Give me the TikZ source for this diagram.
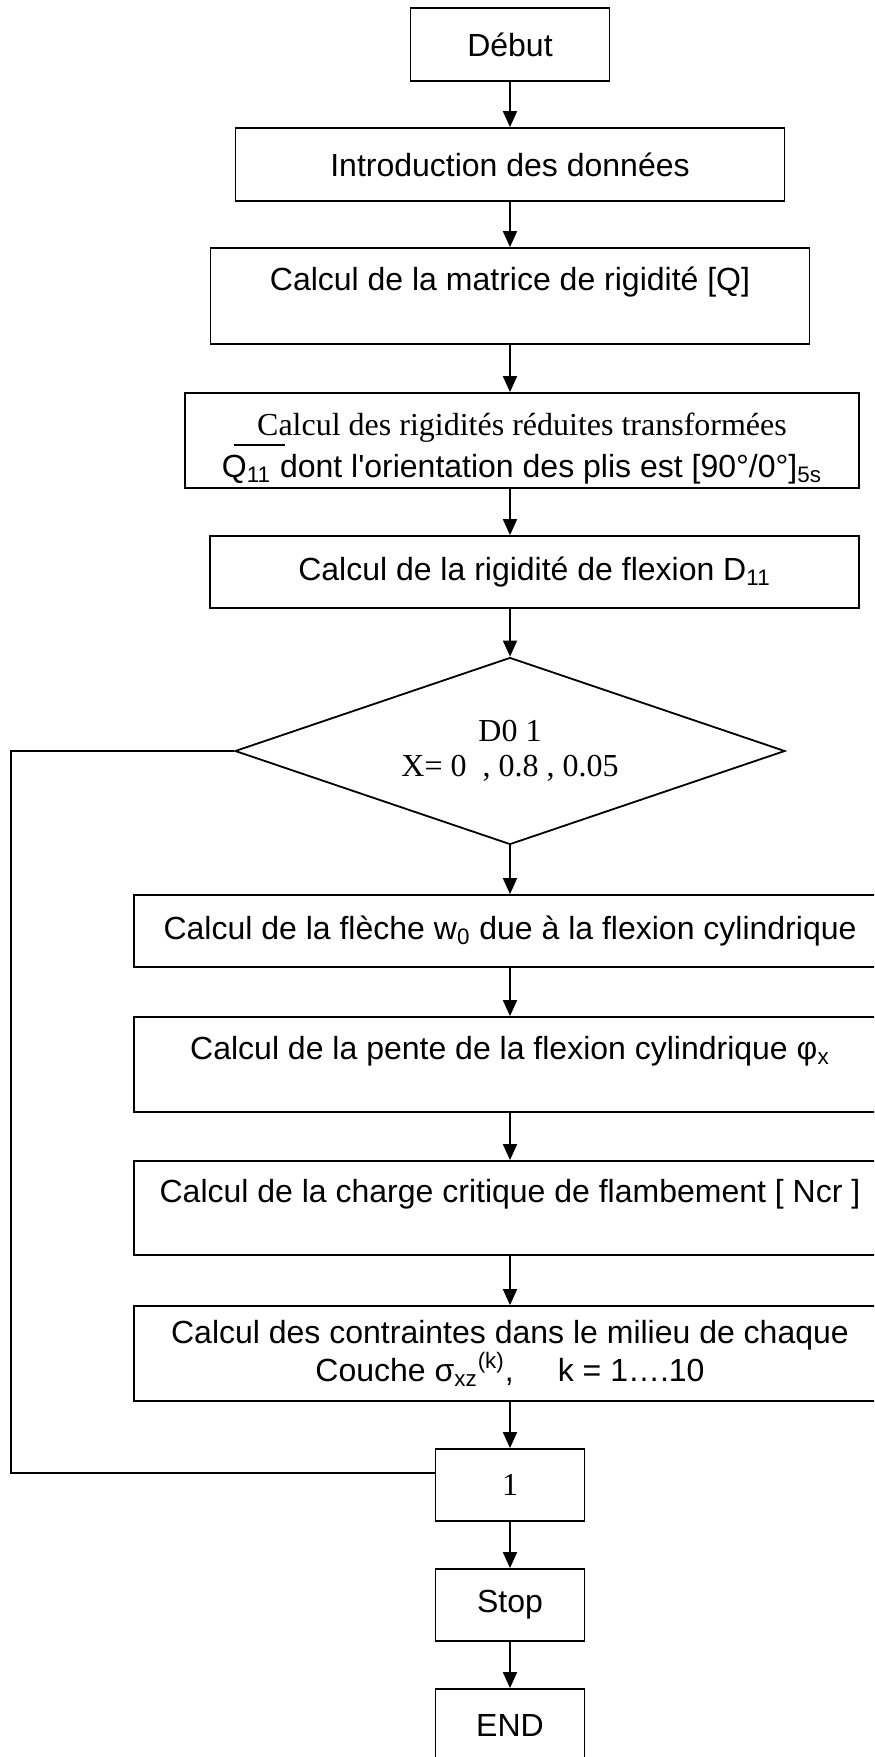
\documentclass[tikz,border=0pt]{standalone}
\usepackage{fontspec}
\setmainfont{Liberation Sans}[Ligatures=TeXOff]
\newfontfamily\tms{Liberation Serif}
\usetikzlibrary{shapes.geometric,arrows.meta}
\newcommand\fsz{\fontsize{16}{17}\selectfont}
\begin{document}
\begin{tikzpicture}[x=0.5pt,y=-0.5pt,
  box/.style={draw, line width=0.9pt, rectangle, inner sep=0pt, align=center, font=\fsz},
  arr/.style={line width=0.9pt, -{Triangle[length=8pt,width=7pt]}},
  plain/.style={line width=0.9pt}]
\useasboundingbox (0,0) rectangle (874,1757);
\clip (0,0) rectangle (874,1757);
\node[box, minimum width=99.5pt, minimum height=36.5pt] (debut) at (510,44.5) {Début};
\node[box, minimum width=274.5pt, minimum height=36.5pt] (intro) at (510,164.5) {Introduction des données};
\node[box, minimum width=299.5pt, minimum height=48pt] (mat) at (510,296) {Calcul de la matrice de rigidité [Q]\\\mbox{}};
\node[box, minimum width=337pt, minimum height=47.5pt, font=\fontsize{16}{16}\selectfont] (rig) at (522,440.5)
  {\rule{0pt}{19pt}{\tms Calcul des rigidités réduites transformées}\\
   \rlap{\hspace{6pt}\rule[15.5pt]{25.5pt}{0.9pt}}Q\textsubscript{11} dont l'orientation des plis est [90°/0°]\textsubscript{5s}};
\node[box, minimum width=324.5pt, minimum height=36pt] (d11) at (534.5,572) {Calcul de la rigidité de flexion D\textsubscript{11}};
\node[draw, diamond, aspect=2.94, line width=0.9pt, minimum width=275pt, minimum height=93.5pt, inner sep=0pt, align=center,
  font=\tms\fontsize{16}{17.5}\selectfont] (dia) at (510,751) {D0 1\\X= 0\ \ , 0.8 , 0.05};
\node[box, minimum width=376pt, minimum height=36pt] (fl) at (510,931) {Calcul de la flèche w\textsubscript{0} due à la flexion cylindrique};
\node[box, minimum width=376pt, minimum height=47.5pt] (pente) at (510,1064.5) {Calcul de la pente de la flexion cylindrique φ\textsubscript{x}\\\mbox{}};
\node[box, minimum width=376pt, minimum height=47pt] (ncr) at (510,1208) {Calcul de la charge critique de flambement [ Ncr ]\\\mbox{}};
\node[box, minimum width=376pt, minimum height=47.5pt] (contr) at (510,1353.5) {Calcul des contraintes dans le milieu de chaque\\Couche σ\textsubscript{xz}\textsuperscript{(k)},\hspace{22pt}k = 1….10};
\node[box, minimum width=74.5pt, minimum height=36pt, font=\tms\fsz] (one) at (510,1485) {1};
\node[box, minimum width=74.5pt, minimum height=36pt] (stop) at (510,1605) {Stop};
\node[box, minimum width=74.5pt, minimum height=36pt] (end) at (510,1725) {END};
\coordinate (lc) at (11,751);
\draw[arr] (debut.south) -- (intro.north);
\draw[arr] (intro.south) -- (mat.north);
\draw[arr] (mat.south) -- (mat.south |- rig.north);
\draw[arr] (rig.south -| dia.north) -- (d11.north -| dia.north);
\draw[arr] (d11.south -| dia.north) -- (dia.north);
\draw[arr] (dia.south) -- (fl.north);
\draw[arr] (fl.south) -- (pente.north);
\draw[arr] (pente.south) -- (ncr.north);
\draw[arr] (ncr.south) -- (contr.north);
\draw[arr] (contr.south) -- (one.north);
\draw[arr] (one.south) -- (stop.north);
\draw[arr] (stop.south) -- (end.north);
\draw[plain] ([yshift=6pt]one.west) -| (lc) -- (dia.west);
\end{tikzpicture}
\end{document}
